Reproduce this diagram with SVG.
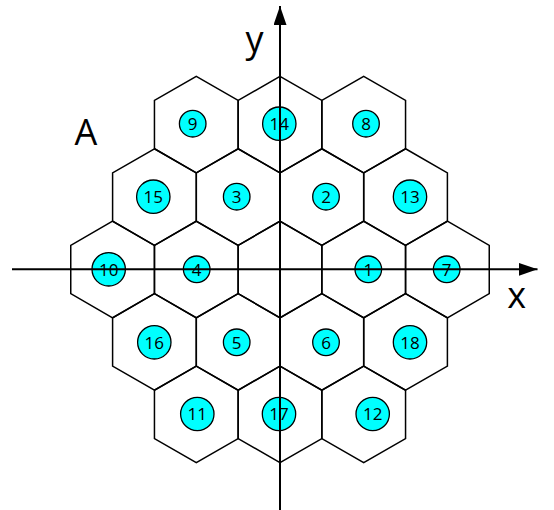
<svg xmlns="http://www.w3.org/2000/svg" xmlns:xlink="http://www.w3.org/1999/xlink" width="554" height="510" viewBox="0 0 554 510">
  <style>
    .hex { fill: none; stroke: #000; stroke-width: 1.5; stroke-linejoin: miter; }
    .dot { fill: #00ffff; stroke: #000; stroke-width: 1.3; }
    .num { font-family: "Open Sans", "Liberation Sans", sans-serif; font-size: 17px; fill: #000; text-anchor: middle; }
    .axis { stroke: #000; stroke-width: 2; fill: none; }
    .lbl { font-family: "Open Sans", "Liberation Sans", sans-serif; font-size: 36px; fill: #000; text-anchor: middle; }
  </style>
  <defs>
    <path id="hx" d="M0,-48.3 L41.85,-24.15 L41.85,24.15 L0,48.3 L-41.85,24.15 L-41.85,-24.15 Z"/>
    <marker id="arr" viewBox="0 0 19 13" refX="19" refY="6.5" markerWidth="19" markerHeight="13" markerUnits="userSpaceOnUse" orient="auto">
      <path d="M0,0 L19,6.5 L0,13 Z" fill="#000"/>
    </marker>
  </defs>
  <rect width="554" height="510" fill="#fff"/>

  <g id="nodes">
    <g id="cell-9"><use xlink:href="#hx" class="hex" x="196.3" y="124.6"/><circle class="dot" cx="192.7" cy="123.7" r="13.3"/><text class="num" x="192.7" y="130">9</text></g>
    <g id="cell-14"><use xlink:href="#hx" class="hex" x="280" y="124.6"/><circle class="dot" cx="279.3" cy="123.7" r="16.7"/><text class="num" x="279.3" y="130">14</text></g>
    <g id="cell-8"><use xlink:href="#hx" class="hex" x="363.7" y="124.6"/><circle class="dot" cx="366" cy="123.7" r="13.3"/><text class="num" x="366" y="130">8</text></g>

    <g id="cell-15"><use xlink:href="#hx" class="hex" x="154.45" y="197.05"/><circle class="dot" cx="153.3" cy="196.7" r="16.7"/><text class="num" x="153.3" y="203">15</text></g>
    <g id="cell-3"><use xlink:href="#hx" class="hex" x="238.15" y="197.05"/><circle class="dot" cx="236.7" cy="196.7" r="13.3"/><text class="num" x="236.7" y="203">3</text></g>
    <g id="cell-2"><use xlink:href="#hx" class="hex" x="321.85" y="197.05"/><circle class="dot" cx="326" cy="196.7" r="13.3"/><text class="num" x="326" y="203">2</text></g>
    <g id="cell-13"><use xlink:href="#hx" class="hex" x="405.55" y="197.05"/><circle class="dot" cx="410" cy="196.7" r="16.7"/><text class="num" x="410" y="203">13</text></g>

    <g id="cell-10"><use xlink:href="#hx" class="hex" x="112.6" y="269.5"/><circle class="dot" cx="108.7" cy="269.3" r="16.7"/><text class="num" x="108.7" y="275.6">10</text></g>
    <g id="cell-4"><use xlink:href="#hx" class="hex" x="196.3" y="269.5"/><circle class="dot" cx="196.7" cy="269.3" r="13.3"/><text class="num" x="196.7" y="275.6">4</text></g>
    <g id="cell-0"><use xlink:href="#hx" class="hex" x="280" y="269.5"/></g>
    <g id="cell-1"><use xlink:href="#hx" class="hex" x="363.7" y="269.5"/><circle class="dot" cx="368.3" cy="269.3" r="13.3"/><text class="num" x="368.3" y="275.6">1</text></g>
    <g id="cell-7"><use xlink:href="#hx" class="hex" x="447.4" y="269.5"/><circle class="dot" cx="446.7" cy="269.3" r="13.3"/><text class="num" x="446.7" y="275.6">7</text></g>

    <g id="cell-16"><use xlink:href="#hx" class="hex" x="154.45" y="341.95"/><circle class="dot" cx="154.3" cy="342.3" r="16.7"/><text class="num" x="154.3" y="348.6">16</text></g>
    <g id="cell-5"><use xlink:href="#hx" class="hex" x="238.15" y="341.95"/><circle class="dot" cx="236.7" cy="342.3" r="13.3"/><text class="num" x="236.7" y="348.6">5</text></g>
    <g id="cell-6"><use xlink:href="#hx" class="hex" x="321.85" y="341.95"/><circle class="dot" cx="326" cy="342.3" r="13.3"/><text class="num" x="326" y="348.6">6</text></g>
    <g id="cell-18"><use xlink:href="#hx" class="hex" x="405.55" y="341.95"/><circle class="dot" cx="410" cy="342.3" r="16.7"/><text class="num" x="410" y="348.6">18</text></g>

    <g id="cell-11"><use xlink:href="#hx" class="hex" x="196.3" y="414.4"/><circle class="dot" cx="197.3" cy="414" r="16.7"/><text class="num" x="197.3" y="420.3">11</text></g>
    <g id="cell-17"><use xlink:href="#hx" class="hex" x="280" y="414.4"/><circle class="dot" cx="279" cy="414" r="16.7"/><text class="num" x="279" y="420.3">17</text></g>
    <g id="cell-12"><use xlink:href="#hx" class="hex" x="363.7" y="414.4"/><circle class="dot" cx="372.7" cy="414" r="16.7"/><text class="num" x="372.7" y="420.3">12</text></g>
  </g>

  <g id="connectors">
    <line id="x-axis" class="axis" x1="12" y1="269.3" x2="537.5" y2="269.3" marker-end="url(#arr)"/>
    <line id="y-axis" class="axis" x1="280" y1="510" x2="280" y2="6" marker-end="url(#arr)"/>
  </g>

  <g id="labels">
    <text class="lbl" x="254.5" y="52">y</text>
    <text class="lbl" x="516.7" y="308.3">x</text>
    <text class="lbl" x="86" y="145">A</text>
  </g>
</svg>
